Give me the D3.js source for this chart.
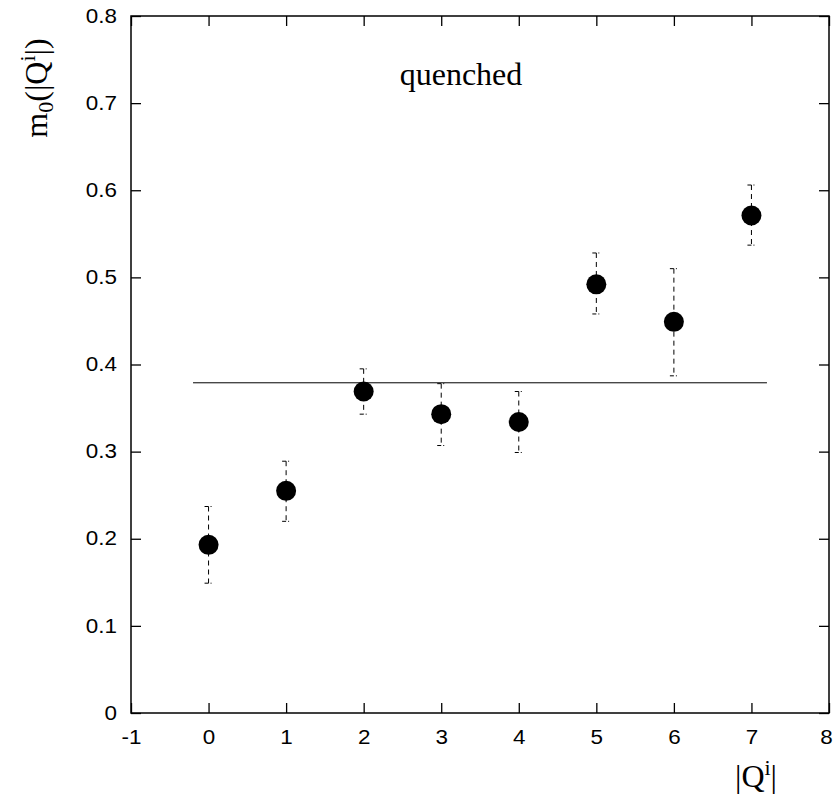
<!DOCTYPE html>
<html>
<head>
<meta charset="utf-8">
<script src="https://cdn.jsdelivr.net/npm/d3@7"></script>
<style>
  body { margin: 0; background: #fff; }
  svg { display: block; }
</style>
</head>
<body>
<div id="chart"></div>
<script>
// data
var qValues = [0, 1, 2, 3, 4, 5, 6, 7];
var m0Values = [0.193, 0.255, 0.369, 0.343, 0.334, 0.492, 0.449, 0.571];
var errLow = [0.149, 0.220, 0.343, 0.307, 0.299, 0.458, 0.387, 0.537];
var errHigh = [0.237, 0.289, 0.395, 0.378, 0.369, 0.528, 0.510, 0.606];
var fitLevel = 0.379;
var fitRange = [-0.2, 7.2];
var xTicks = [-1, 0, 1, 2, 3, 4, 5, 6, 7, 8];
var yTicks = [0, 0.1, 0.2, 0.3, 0.4, 0.5, 0.6, 0.7, 0.8];

var W = 834, H = 794;
var margin = {top: 16, right: 5, bottom: 81, left: 131},
    width = 829 - margin.left,
    height = 713 - margin.top;
var stretch = 1.15; // tick labels look a bit wide in the original

var svg = d3.select("#chart").append("svg")
    .attr("width", W)
    .attr("height", H);

var g = svg.append("g")
    .attr("transform", "translate(" + margin.left + "," + margin.top + ")");

var x = d3.scaleLinear().domain([-1, 8]).range([0, width]);
var y = d3.scaleLinear().domain([0, 0.8]).range([height, 0]);

var fmtX = function(d) { return String(d); };
var fmtY = function(d) { return d === 0 ? "0" : d3.format(".1f")(d); };

// axes, ticks pointing inward
var xAxis = g.append("g")
    .attr("transform", "translate(0," + height + ")")
    .call(d3.axisBottom(x).tickValues(xTicks).tickSizeInner(-10).tickSizeOuter(0).tickPadding(17).tickFormat(fmtX));
g.append("g")
    .call(d3.axisTop(x).tickValues(xTicks).tickSizeInner(-10).tickSizeOuter(0).tickFormat(""));
var yAxis = g.append("g")
    .call(d3.axisLeft(y).tickValues(yTicks).tickSizeInner(-10).tickSizeOuter(0).tickPadding(14).tickFormat(fmtY));
g.append("g")
    .attr("transform", "translate(" + width + ",0)")
    .call(d3.axisRight(y).tickValues(yTicks).tickSizeInner(-10).tickSizeOuter(0).tickFormat(""));

g.selectAll(".domain").remove();
g.selectAll(".tick line").attr("stroke", "#000").attr("stroke-width", 1.3);
g.selectAll(".tick text")
    .attr("fill", "#000")
    .style("font-family", '"Liberation Sans", Arial, sans-serif')
    .style("font-size", "19.5px");
xAxis.selectAll(".tick text")
    .attr("x", function(d) { return d === 8 ? -3 / stretch : 0; })
    .attr("transform", "scale(" + stretch + ",1)");
yAxis.selectAll(".tick text")
    .attr("x", -14 / stretch)
    .attr("transform", "scale(" + stretch + ",1)");

// frame
g.append("rect")
    .attr("x", 0).attr("y", 0)
    .attr("width", width).attr("height", height)
    .attr("fill", "none")
    .attr("stroke", "#000")
    .attr("stroke-width", 1.5);

// fit line
g.append("line")
    .attr("x1", x(fitRange[0])).attr("x2", x(fitRange[1]))
    .attr("y1", y(fitLevel)).attr("y2", y(fitLevel))
    .attr("stroke", "#000")
    .attr("stroke-width", 1);

var data = qValues.map(function(q, i) {
  return {q: q, m: m0Values[i], lo: errLow[i], hi: errHigh[i]};
});

// error bars (dashed)
var bars = g.append("g").selectAll("g.err").data(data).enter().append("g").attr("class", "err");
bars.append("line")
    .attr("x1", function(d) { return x(d.q); })
    .attr("x2", function(d) { return x(d.q); })
    .attr("y1", function(d) { return y(d.hi); })
    .attr("y2", function(d) { return y(d.lo); })
    .attr("stroke", "#000").attr("stroke-width", 1)
    .attr("stroke-dasharray", "5,4");
bars.append("line")
    .attr("x1", function(d) { return x(d.q) - 4; })
    .attr("x2", function(d) { return x(d.q) + 3; })
    .attr("y1", function(d) { return y(d.hi); })
    .attr("y2", function(d) { return y(d.hi); })
    .attr("stroke", "#000").attr("stroke-width", 1)
    .attr("stroke-dasharray", "4,2");
bars.append("line")
    .attr("x1", function(d) { return x(d.q) - 4; })
    .attr("x2", function(d) { return x(d.q) + 3; })
    .attr("y1", function(d) { return y(d.lo); })
    .attr("y2", function(d) { return y(d.lo); })
    .attr("stroke", "#000").attr("stroke-width", 1)
    .attr("stroke-dasharray", "4,2");

// points
g.append("g").selectAll("circle").data(data).enter().append("circle")
    .attr("cx", function(d) { return x(d.q); })
    .attr("cy", function(d) { return y(d.m); })
    .attr("r", 10)
    .attr("fill", "#000");

// labels
var serif = '"Liberation Serif", "Times New Roman", serif';

svg.append("text")
    .attr("x", 461).attr("y", 85)
    .attr("text-anchor", "middle")
    .style("font-family", serif).style("font-size", "32px")
    .text("quenched");

var yl = svg.append("text")
    .attr("transform", "translate(47,88) rotate(-90)")
    .attr("text-anchor", "middle")
    .style("font-family", serif).style("font-size", "32px");
yl.append("tspan").text("m");
yl.append("tspan").attr("dy", 6).style("font-size", "22px").text("0");
yl.append("tspan").attr("dy", -6).text("(|Q");
yl.append("tspan").attr("dy", -12).style("font-size", "22px").text("i");
yl.append("tspan").attr("dy", 12).text("|)");

var xl = svg.append("text")
    .attr("x", 756).attr("y", 787)
    .attr("text-anchor", "middle")
    .style("font-family", serif).style("font-size", "32px");
xl.append("tspan").text("|Q");
xl.append("tspan").attr("dy", -12).style("font-size", "22px").text("i");
xl.append("tspan").attr("dy", 12).text("|");
</script>
</body>
</html>
